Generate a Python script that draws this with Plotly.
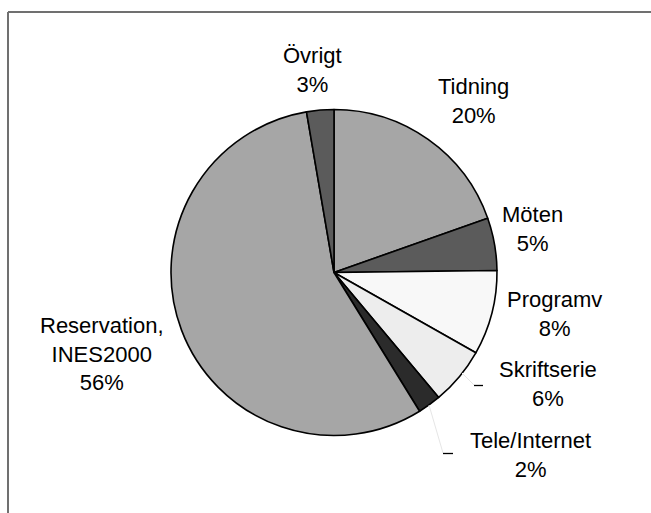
import plotly.graph_objects as go

# ---- data ----
categories = ["Tidning", "Möten", "Programv", "Skriftserie", "Tele/Internet",
              "Reservation,<br>INES2000", "Övrigt"]
values = [19.6, 5.2, 8.4, 5.7, 2.3, 56.1, 2.7]
colors = ["#a6a6a6", "#5b5b5b", "#f8f8f8", "#ededed", "#2b2b2b", "#a6a6a6", "#5b5b5b"]

W, H = 651, 513
CX, CY, R = 334, 272.5, 163  # pie centre/radius in pixels (layout)

# label block centres in pixels (layout only)
label_px = [(473, 101), (532.5, 229), (554.7, 314), (548, 384), (530, 455),
            (101.5, 354), (312, 70)]

total = sum(values)
pcts = [round(v / total * 100) for v in values]

fig = go.Figure()
fig.add_trace(go.Pie(
    labels=categories,
    values=values,
    sort=False,
    direction="clockwise",
    rotation=0,
    textinfo="none",
    hoverinfo="label+percent",
    marker=dict(colors=colors, line=dict(color="#000000", width=1.6)),
    domain=dict(x=[(CX - R) / W, (CX + R) / W],
                y=[(H - CY - R) / H, (H - CY + R) / H]),
    showlegend=False,
))

font = dict(family="Liberation Sans, Arial, sans-serif", size=22, color="#000000")
for cat, p, (lx, ly) in zip(categories, pcts, label_px):
    fig.add_annotation(
        x=lx / W, y=1 - ly / H, xref="paper", yref="paper",
        text=f"{cat}<br>{p}%", showarrow=False, align="center",
        xanchor="center", yanchor="middle", font=font,
    )

shapes = []
# chart frame (top and left edges visible)
shapes.append(dict(type="line", xref="paper", yref="paper",
                   x0=8 / W, x1=1.0, y0=1 - 12 / H, y1=1 - 12 / H,
                   line=dict(color="#707070", width=2)))
shapes.append(dict(type="line", xref="paper", yref="paper",
                   x0=8 / W, x1=8 / W, y0=1 - 12 / H, y1=0,
                   line=dict(color="#707070", width=2)))
# leader lines for Skriftserie and Tele/Internet
for (x0, y0, x1, y1) in [(462, 373, 474, 385), (429, 405, 443, 453)]:
    shapes.append(dict(type="line", xref="paper", yref="paper",
                       x0=x0 / W, y0=1 - y0 / H, x1=x1 / W, y1=1 - y1 / H,
                       line=dict(color="#e6e6e6", width=1)))
for (x0, x1, y) in [(474, 483, 385.5), (443, 453, 453.5)]:
    shapes.append(dict(type="line", xref="paper", yref="paper",
                       x0=x0 / W, y0=1 - y / H, x1=x1 / W, y1=1 - y / H,
                       line=dict(color="#000000", width=1.3)))

fig.update_layout(
    width=W, height=H,
    margin=dict(l=0, r=0, t=0, b=0),
    paper_bgcolor="#ffffff",
    plot_bgcolor="#ffffff",
    shapes=shapes,
)

fig.write_html("out.html",
               config={"displayModeBar": False},
               post_script="document.body.style.margin='0';document.body.style.overflow='hidden';")
